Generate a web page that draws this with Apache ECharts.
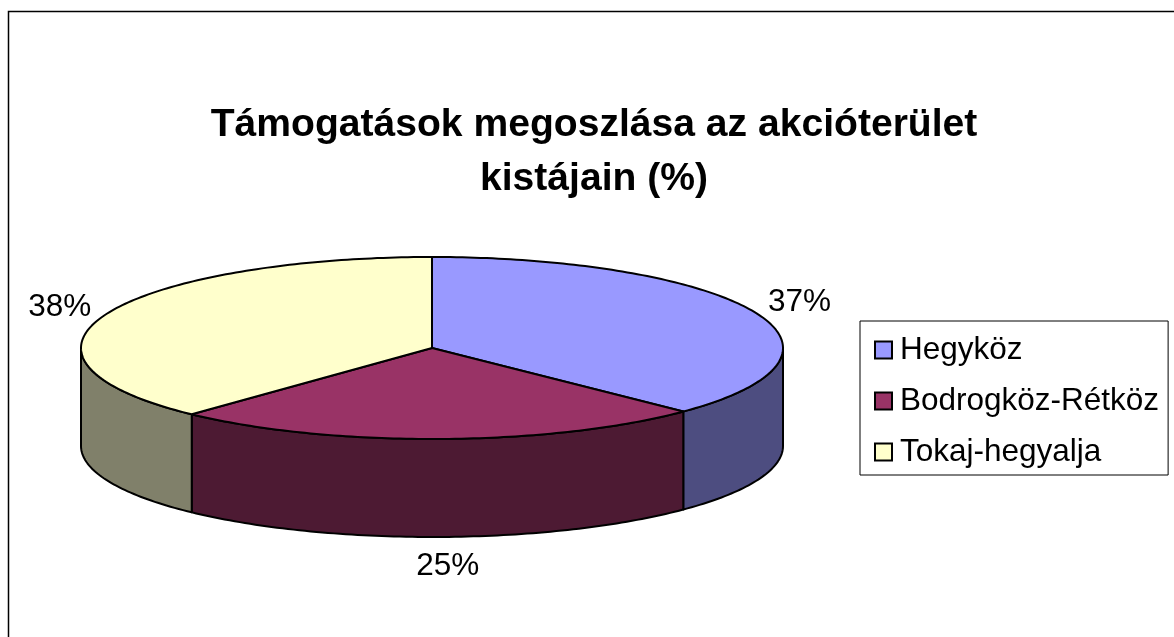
<!DOCTYPE html>
<html>
<head>
<meta charset="utf-8">
<style>
  html, body { margin: 0; padding: 0; background: #fff; }
  #chart { width: 1174px; height: 637px; }
</style>
<script src="https://cdn.jsdelivr.net/npm/echarts@6/dist/echarts.min.js"></script>
</head>
<body>
<div id="chart"></div>
<script>
const titleLines = ["Támogatások megoszlása az akcióterület", "kistájain (%)"];
const categories = ["Hegyköz", "Bodrogköz-Rétköz", "Tokaj-hegyalja"];
const values = [37.3, 24.7, 38];
const topColors = ["#9999ff", "#993366", "#ffffcc"];
const sideColors = ["#4d4d80", "#4d1a33", "#80806a"];

const fontFamily = '"Liberation Sans", Arial, sans-serif';
const pie = { cx: 432, cy: 348, rx: 351, ry: 91, depth: 98 };
// label offset from the rim point at the middle of each slice
const labelOffsets = [[44, -10], [8, 29], [-46, -7]];

const total = values.reduce((a, b) => a + b, 0);

// angle in degrees, clockwise from the top of the ellipse
function rimPoint(deg, dy) {
  const t = (deg * Math.PI) / 180;
  return [pie.cx + pie.rx * Math.sin(t), pie.cy - pie.ry * Math.cos(t) + (dy || 0)];
}

function arc(from, to, dy) {
  const pts = [];
  const steps = Math.max(2, Math.ceil(to - from));
  for (let i = 0; i <= steps; i++) {
    pts.push(rimPoint(from + ((to - from) * i) / steps, dy));
  }
  return pts;
}

function renderSlice(idx) {
  const before = values.slice(0, idx).reduce((a, b) => a + b, 0);
  const start = (before / total) * 360;
  const end = ((before + values[idx]) / total) * 360;
  const mid = (start + end) / 2;
  const lineStyle = { stroke: "#000", lineWidth: 2, lineJoin: "round" };
  const children = [];

  // only the front half of the wall can be seen
  const wallFrom = Math.max(start, 90);
  const wallTo = Math.min(end, 270);
  if (wallTo > wallFrom) {
    children.push({
      type: "polygon",
      shape: { points: arc(wallFrom, wallTo, 0).concat(arc(wallFrom, wallTo, pie.depth).reverse()) },
      style: Object.assign({ fill: sideColors[idx] }, lineStyle),
    });
  }
  children.push({
    type: "polygon",
    shape: { points: [[pie.cx, pie.cy]].concat(arc(start, end, 0)) },
    style: Object.assign({ fill: topColors[idx] }, lineStyle),
  });

  const rim = rimPoint(mid, mid > 90 && mid < 270 ? pie.depth : 0);
  children.push({
    type: "text",
    style: {
      x: rim[0] + labelOffsets[idx][0],
      y: rim[1] + labelOffsets[idx][1],
      text: Math.round(values[idx]) + "%",
      fill: "#000",
      font: "31.5px " + fontFamily,
      align: "center",
      verticalAlign: "middle",
    },
  });
  return { type: "group", children: children };
}

const chart = echarts.init(document.getElementById("chart"), null, { renderer: "canvas" });
chart.setOption({
  animation: false,
  backgroundColor: "#fff",
  title: {
    text: titleLines.join("\n"),
    left: 589,
    top: 93,
    textAlign: "center",
    textStyle: {
      fontFamily: fontFamily,
      fontSize: 39.1,
      fontWeight: "bold",
      color: "#000",
      lineHeight: 54,
    },
  },
  legend: {
    orient: "vertical",
    left: 860,
    top: 321,
    padding: [13, 9, 7, 14],
    backgroundColor: "#fff",
    borderColor: "#000",
    borderWidth: 1,
    borderRadius: 0,
    icon: "rect",
    itemWidth: 17,
    itemHeight: 17,
    itemGap: 19,
    selectedMode: false,
    itemStyle: { borderColor: "#000", borderWidth: 2 },
    textStyle: { fontFamily: fontFamily, fontSize: 31.5, color: "#000", padding: [0, 0, 0, 3], lineHeight: 30 },
    data: categories,
  },
  graphic: [
    {
      type: "polyline",
      silent: true,
      shape: { points: [[8.5, 640], [8.5, 11.5], [1180, 11.5]] },
      style: { stroke: "#000", lineWidth: 1.5, fill: null },
    },
  ],
  series: categories.map((name, idx) => ({
    name: name,
    type: "custom",
    coordinateSystem: "none",
    silent: true,
    itemStyle: { color: topColors[idx] },
    data: [values[idx]],
    renderItem: () => renderSlice(idx),
  })),
});
</script>
</body>
</html>
